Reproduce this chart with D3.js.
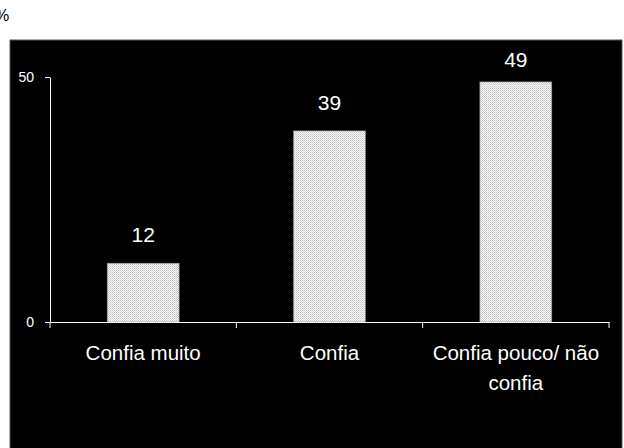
<!DOCTYPE html>
<html>
<head>
<meta charset="utf-8">
<script src="https://cdn.jsdelivr.net/npm/d3@7"></script>
<style>
  body { margin: 0; background: #fff; }
  svg { display: block; font-family: "Liberation Sans", Arial, sans-serif; }
</style>
</head>
<body>
<div id="chart"></div>
<script>
// data
var categories = ["Confia muito", "Confia", "Confia pouco/ não confia"];
var labelLines = [["Confia muito"], ["Confia"], ["Confia pouco/ não", "confia"]];
var values = [12, 39, 49];
var yTicks = [0, 50];

var W = 624, H = 448;
var plot = { left: 50, right: 609, top: 77, bottom: 322 };

var svg = d3.select("#chart").append("svg")
    .attr("width", W)
    .attr("height", H);

// dotted fill for the bars
var pat = svg.append("defs").append("pattern")
    .attr("id", "dots")
    .attr("width", 2).attr("height", 2)
    .attr("patternUnits", "userSpaceOnUse");
pat.append("rect").attr("width", 2).attr("height", 2).attr("fill", "#fafafa");
pat.append("rect").attr("width", 1).attr("height", 1).attr("fill", "#c4c4c4");
pat.append("rect").attr("x", 1).attr("y", 1).attr("width", 1).attr("height", 1).attr("fill", "#d6d6d6");

// "%" unit label, partly outside the page on the left
svg.append("text")
    .attr("x", -5)
    .attr("y", 21)
    .attr("font-size", 16)
    .attr("fill", "#000")
    .text("%");

// black chart area
svg.append("rect")
    .attr("x", 10).attr("y", 40)
    .attr("width", 612).attr("height", 410)
    .attr("fill", "#000")
    .attr("stroke", "#555")
    .attr("stroke-width", 1);

var x = d3.scaleBand()
    .domain(categories)
    .range([plot.left, plot.right])
    .padding(0);

var y = d3.scaleLinear()
    .domain([0, 50])
    .range([plot.bottom, plot.top]);

var barW = x.bandwidth() * 0.386;

// bars
svg.selectAll("rect.bar")
    .data(values)
    .enter()
    .append("rect")
    .attr("class", "bar")
    .attr("x", function (d, i) { return x(categories[i]) + (x.bandwidth() - barW) / 2; })
    .attr("y", function (d) { return y(d); })
    .attr("width", barW)
    .attr("height", function (d) { return y(0) - y(d); })
    .attr("fill", "url(#dots)")
    .attr("stroke", "#8a8a8a")
    .attr("stroke-width", 0.6);

// value labels
svg.selectAll("text.val")
    .data(values)
    .enter()
    .append("text")
    .attr("class", "val")
    .attr("x", function (d, i) { return x(categories[i]) + x.bandwidth() / 2; })
    .attr("y", function (d) { return Math.max(y(d) - 21, 67); })
    .attr("text-anchor", "middle")
    .attr("font-size", 21)
    .attr("fill", "#fff")
    .text(function (d) { return d; });

// y axis
var yAxis = svg.append("g")
    .attr("transform", "translate(" + plot.left + ",0)")
    .call(d3.axisLeft(y).tickValues(yTicks).tickSize(5).tickSizeOuter(0).tickPadding(11));
yAxis.select(".domain").attr("stroke", "#fff");
yAxis.selectAll(".tick line").attr("stroke", "#fff");
yAxis.selectAll(".tick text")
    .attr("fill", "#fff")
    .attr("font-size", 14)
    .attr("font-family", "Liberation Sans, Arial, sans-serif");

// x axis: baseline plus category boundary ticks
var xAxis = svg.append("g")
    .attr("transform", "translate(0," + plot.bottom + ")")
    .call(d3.axisBottom(x).tickSize(0).tickSizeOuter(0).tickFormat(""));
xAxis.select(".domain").attr("stroke", "#fff");

var edges = categories.map(function (c) { return x(c); }).concat([x.range()[1]]);
xAxis.selectAll("line.edge")
    .data(edges)
    .enter()
    .append("line")
    .attr("class", "edge")
    .attr("x1", function (d) { return d; })
    .attr("x2", function (d) { return d; })
    .attr("y1", 0)
    .attr("y2", 6)
    .attr("stroke", "#fff");

// category labels (wrapped)
var cat = svg.selectAll("text.cat")
    .data(labelLines)
    .enter()
    .append("text")
    .attr("class", "cat")
    .attr("text-anchor", "middle")
    .attr("font-size", 20.5)
    .attr("fill", "#fff");

cat.selectAll("tspan")
    .data(function (d, i) { return d.map(function (s) { return { s: s, i: i }; }); })
    .enter()
    .append("tspan")
    .attr("x", function (d) { return x(categories[d.i]) + x.bandwidth() / 2; })
    .attr("y", function (d, j) { return 360 + j * 30; })
    .text(function (d) { return d.s; });
</script>
</body>
</html>
